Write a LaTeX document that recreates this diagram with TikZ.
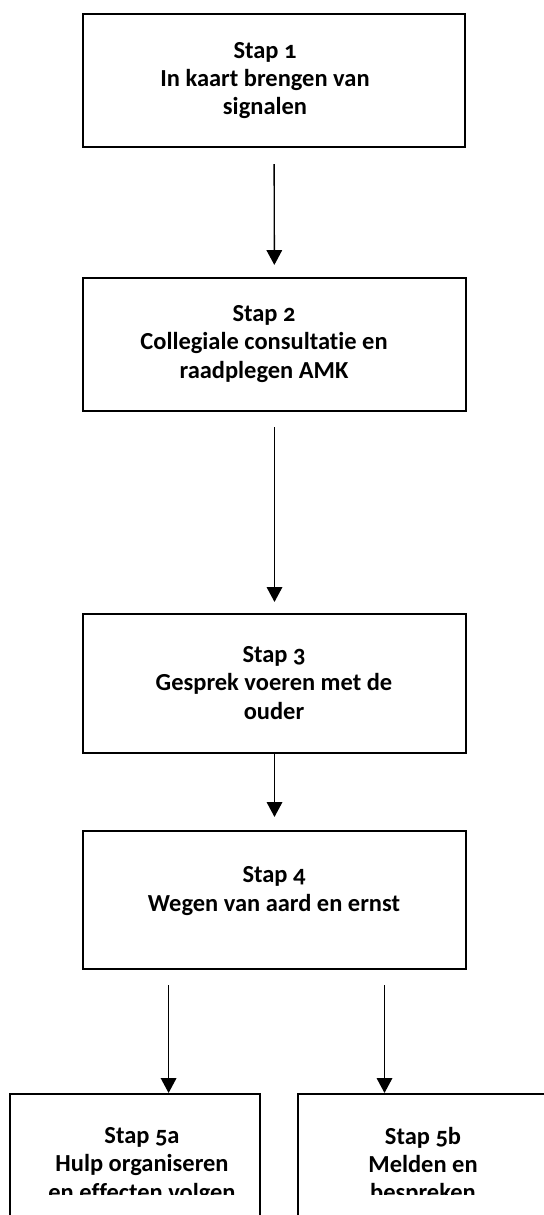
\documentclass[tikz,border=0pt]{standalone}
\usepackage{fontspec}
\setmainfont{Carlito}[Numbers=OldStyle,Ligatures=NoCommon]
\usetikzlibrary{arrows.meta}
\newcommand{\pxu}{0.025cm}
\tikzset{
  stapbox/.style={draw,line width=1.5pt,inner sep=0pt},
  staptekst/.style={align=center,inner sep=0pt,font=\bfseries\fontsize{17.4}{20}\selectfont},
  pijl/.style={line width=1pt,-{Triangle[length=10.5pt,width=11pt]}}
}
\begin{document}
\begin{tikzpicture}[x=\pxu,y=-\pxu]
\useasboundingbox (0,0) rectangle (544,1215);
\clip (0,0) rectangle (544,1215);

\node[stapbox,minimum width=382*\pxu,minimum height=133*\pxu] (b1) at (274,80.5) {};
\node[stapbox,minimum width=383*\pxu,minimum height=133*\pxu] (b2) at (274.5,344.5) {};
\node[stapbox,minimum width=383*\pxu,minimum height=139*\pxu] (b3) at (274.5,683.5) {};
\node[stapbox,minimum width=383*\pxu,minimum height=138*\pxu] (b4) at (274.5,900) {};
\node[stapbox,minimum width=250*\pxu,minimum height=146*\pxu] (b5a) at (135,1167) {};
\node[stapbox,minimum width=262*\pxu,minimum height=146*\pxu] (b5b) at (429,1167) {};

\node[staptekst] (t1) at (265,80.5) {Stap 1\\In kaart brengen van\\signalen};
\node[staptekst] (t2) at (264,344) {Stap 2\\Collegiale consultatie en\\raadplegen AMK};
\node[staptekst] (t3) at (274,683) {Stap 3\\Gesprek voeren met de\\ouder};
\node[staptekst] (t4) at (274,891) {Stap 4\\Wegen van aard en ernst};
\begin{scope}
\clip (0,0) rectangle (544,1194);
\node[staptekst] (t5a) at (142,1166) {Stap 5a\\Hulp organiseren\\en effecten volgen};
\node[staptekst] (t5b) at (423,1166) {Stap 5b\\Melden en\\bespreken};
\end{scope}

\draw[pijl,shorten <=16*\pxu,shorten >=12*\pxu] (b1) -- (b2);
\draw[pijl,shorten <=15*\pxu,shorten >=11*\pxu] (b2) -- (b3);
\draw[pijl,shorten >=13*\pxu] (b3) -- (b4);
\coordinate (v5a) at (168.6,985);
\coordinate (v5b) at (384.5,985);
\draw[pijl] (v5a) -- (v5a |- b5a.north);
\draw[pijl] (v5b) -- (v5b |- b5b.north);
\end{tikzpicture}
\end{document}
